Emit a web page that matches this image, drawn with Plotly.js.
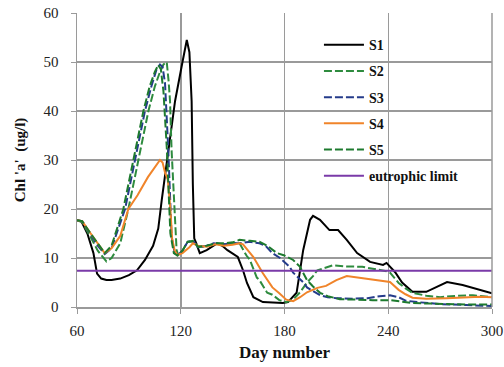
<!DOCTYPE html>
<html>
<head>
<meta charset="utf-8">
<script src="https://cdn.plot.ly/plotly-3.0.1.min.js"></script>
<style>html,body{margin:0;padding:0;background:#fff;}#chart{width:504px;height:367px;}</style>
</head>
<body>
<div id="chart"></div>
<script>
// Series names
const seriesNames = ["S1", "S2", "S3", "S4", "S5", "eutrophic limit"];

// S1 (black)
const s1Days = [60,62.5,66,69.5,71.6,74,77,80,85,90,94.7,99.3,104,107,109,112.8,116.7,121,123.5,125,126.3,127,127.8,129,131,135,141,144,147,153,156,158.3,162,167.5,175,179,182,187,190.8,194.8,196.5,200.5,206,211,216,222,229.5,237,239,244,248,254,262,274,283,299,300];
const s1Vals = [17.7,17.5,15,11,6.8,5.8,5.5,5.5,5.8,6.5,7.5,9.6,12.5,16,21.8,32,42,50,54.5,52,42,25,14,13,11,11.6,13,12.5,11.6,10.2,7.5,4.9,2,1,0.8,0.8,1,2.9,11.6,17.8,18.6,17.8,15.7,15.7,13.7,11,9.2,8.6,9,7.1,5,3.1,3.1,5.1,4.5,2.9,2.8];

// S2 (green dashed)
const s2Days = [60,63,67.5,72,77,80,85,89.7,95.5,101.3,105,108,110,111.9,113,113.8,114.7,116.7,117.6,118.5,121,124,127,130,135,140,145,150,154,158,160,164,165.5,170,173,177,181,185,189,193,196.5,199,204.6,208,214,225,228,239,241,246,250,254,262,270,280,289,300];
const s2Vals = [17.7,17.3,14.5,11.5,9.3,10,13,20,30,40,45,48,49.5,50,46,42,32,18.4,11.6,10.6,11.5,13.3,13.3,12.2,12.4,13,12.8,13,13,10.5,9.6,6,5.5,2.9,2.5,1.4,1,1.5,3,5,6.3,7.5,8.2,8.5,8.3,8.2,8,7.3,7,4.9,3.8,2.9,2.3,2,2.3,2.4,2];

// S3 (blue dashed)
const s3Days = [60,63,67.5,72,76,80,87.8,93.5,99.3,103,106,108,109.5,110.9,112.8,114.7,116.5,118,121,124,127,130,135,139,145,150,154,160,165.5,169,173,177.4,183,185,191,193,200.6,205,210,220,228,235,241,246,250,256.7,270,285,300];
const s3Vals = [17.7,17.5,15,12.5,10.8,12,20,30,40,45,48.5,49.5,49,45.7,32,14.3,11,10.5,11.5,13.3,13.5,12.2,12.5,13,12.8,13,13,13.3,13,12.5,11,10,8.2,7,5,4,2.4,2,1.8,1.7,1.8,2.2,2.4,2,1.3,1,0.6,0.4,0.2];

// S4 (orange)
const s4Days = [60,63,67.5,72,76,80,85,89.7,95,101,105,108,109.5,111,112.5,114,115,116.5,118,121,125,127,130,135,140,145,150,154,156,162,167.5,173,177,181,185,189,193,199,204,210,216,225,235,241,246,250,254,262,274,285,293,300];
const s4Vals = [17.7,17.5,15.2,13,11,12,14.5,20,22.8,26.5,28.6,30,29.5,27.3,26,20,14,11.5,10.6,11,12.2,13,12.5,12.3,12.8,12.5,12.7,13,12.8,10.2,6.9,4,2.8,1.5,1.2,2,3,3.9,4.3,5.5,6.3,5.9,5.4,5.1,3.5,2.6,1.9,1.7,1.8,2,2.1,2];

// S5 (green dashed)
const s5Days = [60,63,67.5,72,76,80,86.8,92.6,98.4,102,105,107,108.5,110,112,114,116,118,121,124,127,130,135,140,145,150,154,160,165.5,170,175.6,180,185,189,193,196.5,200.6,205,212,231,241,254,270,285,300];
const s5Vals = [17.7,17.5,15.2,13,11,12.5,20,30,40,45,48,49.4,48.5,44,32,15,11,10.5,11.5,13.3,13.5,12.3,12.5,13,13,13.2,13.7,13.5,13.3,12.5,11,10.5,9.6,8.2,5.5,4.2,2.9,2.2,1.6,1.4,1.4,0.8,0.6,0.5,0.5];

// Eutrophic limit
const limitDays = [60, 300];
const limitVals = [7.4, 7.4];

// Axis ticks
const xTicks = [60, 120, 180, 240, 300];
const yTicks = [0, 10, 20, 30, 40, 50, 60];

const colors = ["#000000", "#2e8b3e", "#243b8a", "#f0842a", "#1d7a2e", "#7a3aa8"];
const dashes = ["solid", "8px,3px", "8px,3px", "solid", "8px,3px", "solid"];

const xs = [s1Days, s2Days, s3Days, s4Days, s5Days, limitDays];
const ys = [s1Vals, s2Vals, s3Vals, s4Vals, s5Vals, limitVals];

const traces = xs.map((x, i) => ({
  x: x,
  y: ys[i],
  name: seriesNames[i],
  type: "scatter",
  mode: "lines",
  legendgroup: "g" + i,
  line: { color: colors[i], width: 2, dash: dashes[i], shape: "linear" }
}));

const serif = "Liberation Serif, Times New Roman, serif";

const layout = {
  width: 504,
  height: 367,
  margin: { l: 77, r: 12, t: 13, b: 60 },
  paper_bgcolor: "#ffffff",
  plot_bgcolor: "#ffffff",
  font: { family: serif, size: 13, color: "#222" },
  showlegend: true,
  legend: {
    x: 0.583, y: 0.945, xanchor: "left", yanchor: "top",
    bgcolor: "rgba(0,0,0,0)",
    font: { family: serif, size: 14, color: "#111", weight: "bold" },
    traceorder: "grouped",
    tracegroupgap: 5,
    itemwidth: 40
  },
  xaxis: {
    range: [60, 300],
    tickvals: xTicks,
    ticktext: xTicks.map(String),
    showgrid: true, gridcolor: "#9a9a9a", gridwidth: 1.5,
    showline: true, linecolor: "#9a9a9a", linewidth: 1.5,
    ticks: "outside", ticklen: 5, tickcolor: "#9a9a9a",
    ticklabelstandoff: 4,
    zeroline: false,
    tickfont: { family: serif, size: 15, color: "#222" },
    title: { text: "Day number", font: { family: serif, size: 17, color: "#111", weight: "bold" }, standoff: 8 }
  },
  yaxis: {
    range: [0, 60],
    tickvals: yTicks,
    ticktext: yTicks.map(String),
    showgrid: true, gridcolor: "#9a9a9a", gridwidth: 1.5,
    showline: true, linecolor: "#9a9a9a", linewidth: 1.5,
    ticks: "outside", ticklen: 5, tickcolor: "#9a9a9a",
    ticklabelstandoff: 9,
    zeroline: false,
    tickfont: { family: serif, size: 15, color: "#222" },
    title: { text: "Chl 'a'  (ug/l)", font: { family: serif, size: 15, color: "#111", weight: "bold" }, standoff: 14 }
  },
  shapes: [
    { type: "line", xref: "paper", yref: "paper", x0: 1, x1: 1, y0: 0, y1: 1, line: { color: "#9a9a9a", width: 1.5 } }
  ]
};

Plotly.newPlot("chart", traces, layout, { displayModeBar: false, staticPlot: true });
</script>
</body>
</html>
